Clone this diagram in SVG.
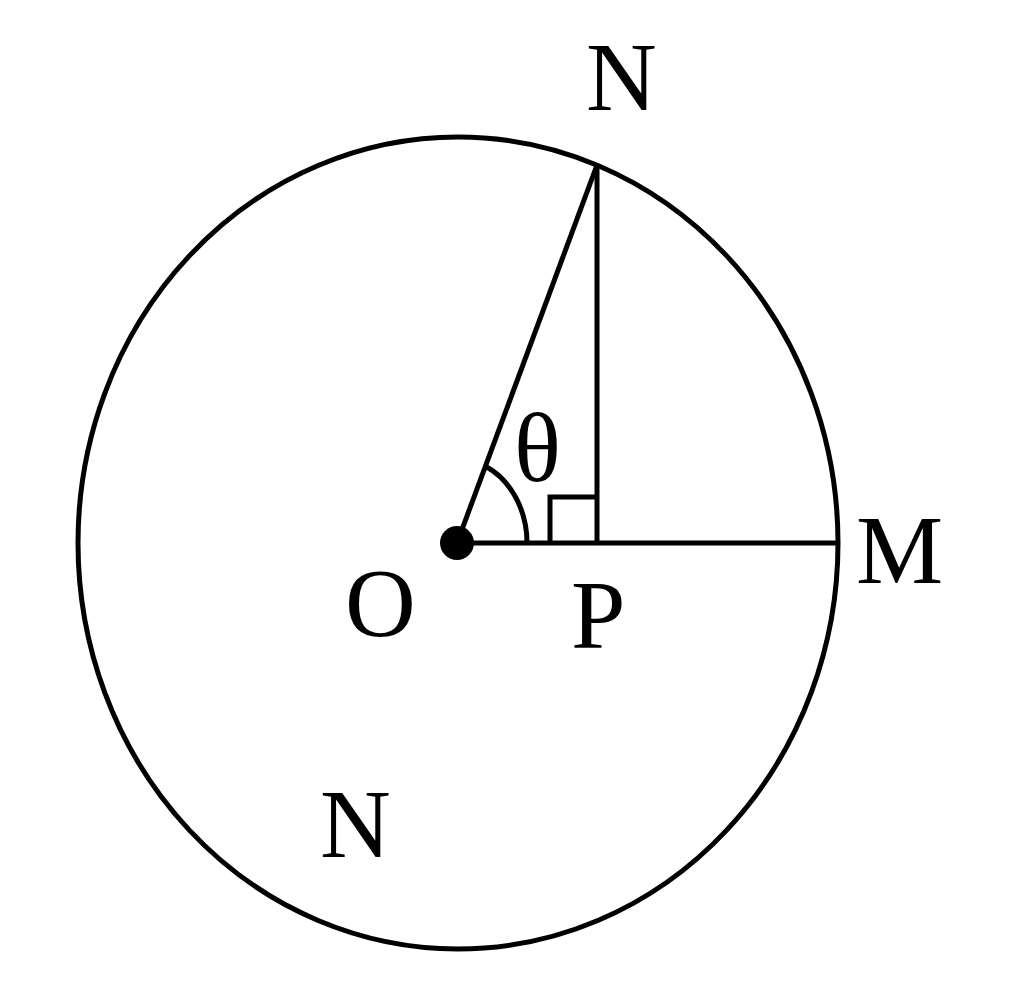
<svg xmlns="http://www.w3.org/2000/svg" width="1024" height="993" viewBox="0 0 1024 993">
<style>
.ln{fill:none;stroke:#000;stroke-width:5;stroke-linecap:butt}
.lb{font-size:98px;fill:#000}
</style>
<rect width="1024" height="993" fill="#fff"/>
<g id="circle"><ellipse class="ln" cx="458" cy="543" rx="380" ry="406"/></g>
<g id="connectors">
<line class="ln" x1="457" y1="543" x2="838" y2="543"/>
<line class="ln" x1="457" y1="543" x2="597" y2="165"/>
<line class="ln" x1="597" y1="165" x2="597" y2="543"/>
<path class="ln" d="M550 543 V497 H597"/>
<path class="ln" d="M527 543 A70 84 0 0 0 485.4 466.3"/>
</g>
<g font-family="Liberation Serif, Times New Roman, Times, serif">
<g id="O"><circle cx="457" cy="543" r="17" fill="#000"/><text class="lb" x="345" y="636">O</text></g>
<g id="P"><text class="lb" x="571" y="648">P</text></g>
<g id="M"><text class="lb" x="856" y="583">M</text></g>
<g id="N-top"><text class="lb" x="586" y="110">N</text></g>
<g id="N-bottom"><text class="lb" x="320" y="857">N</text></g>
<g id="theta"><text class="lb" x="514" y="481" font-size="92">θ</text></g>
</g>
</svg>
